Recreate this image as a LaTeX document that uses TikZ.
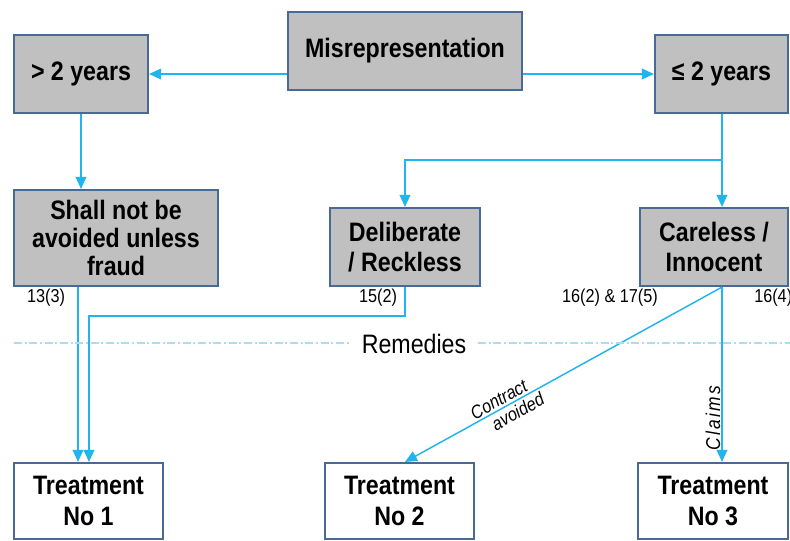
\documentclass[tikz,border=0pt]{standalone}
\usepackage{fontspec}
\setmainfont{Liberation Sans}[FakeStretch=0.87]
\usetikzlibrary{arrows.meta}
\definecolor{boxfill}{HTML}{C0C0C0}
\definecolor{boxline}{HTML}{4A6A96}
\definecolor{flow}{HTML}{22B4EE}
\definecolor{sepline}{HTML}{A8DDF3}
\tikzset{
  box/.style={draw=boxline, line width=1.6pt, fill=boxfill, align=center,
    font=\fontsize{20}{23}\selectfont\bfseries, inner sep=0pt},
  tbox/.style={box, fill=white},
  flowline/.style={draw=flow, line width=1.1pt, -{Triangle[length=9pt,width=8pt]}},
  flowplain/.style={draw=flow, line width=1.1pt},
  small/.style={font=\fontsize{14}{16}\selectfont, inner sep=0pt},
  edgelabel/.style={font=\fontsize{14}{16}\selectfont\itshape, inner sep=0pt, align=center},
  sep/.style={sepline, line width=0.9pt, dash pattern=on 6pt off 2pt on 1.5pt off 2pt},
}
\begin{document}
\begin{tikzpicture}[x=0.75pt,y=-0.75pt]
\clip (0,0) rectangle (790,540);
\fill[white] (0,0) rectangle (790,540);
% top row
\node[box, minimum width={234*0.75pt}, minimum height={78*0.75pt}] (mis) at (405,51) {Misrepresentation};
\node[box, minimum width={134*0.75pt}, minimum height={78*0.75pt}] (gt) at (81,74) {> 2 years};
\node[box, minimum width={133*0.75pt}, minimum height={78*0.75pt}] (le) at (721.5,74) {≤ 2 years};
% middle row
\node[box, minimum width={204*0.75pt}, minimum height={96*0.75pt}, font=\fontsize{20}{21}\selectfont\bfseries] (shall) at (116,238) {Shall not be\\avoided unless\\fraud};
\node[box, minimum width={150*0.75pt}, minimum height={78*0.75pt}] (del) at (405,247) {Deliberate\\/ Reckless};
\node[box, minimum width={148*0.75pt}, minimum height={78*0.75pt}] (care) at (714,247) {Careless /\\Innocent};
% bottom row
\node[tbox, minimum width={149*0.75pt}, minimum height={76*0.75pt}] (t1) at (88.5,501) {Treatment\\No 1};
\node[tbox, minimum width={149*0.75pt}, minimum height={76*0.75pt}] (t2) at (399.5,501) {Treatment\\No 2};
\node[tbox, minimum width={150*0.75pt}, minimum height={76*0.75pt}] (t3) at (713,501) {Treatment\\No 3};
% helper coordinates
\coordinate (branch) at (722,160);
\coordinate (delturn) at (405,160);
\coordinate (d1) at (405,316);
\coordinate (d2) at (89,316);
% connectors
\draw[flowline] (mis.west |- gt.east) -- (gt.east);
\draw[flowline] (mis.east |- le.west) -- (le.west);
\draw[flowline] (gt.south -| 81,0) -- (shall.north -| 81,0);
\draw[flowplain] (le.south -| branch) -- (branch);
\draw[flowline] (branch) -- (care.north -| branch);
\draw[flowline] (branch) -- (delturn) -- (del.north);
\draw[flowline] (shall.south -| 78,0) -- (t1.north -| 78,0);
\draw[flowline] (del.south) -- (d1) -- (d2) -- (t1.north -| d2);
\draw[flowline] (care.south -| branch) --
  node[edgelabel, sloped, pos=0.69, above=1.5pt] (ca1) {Contract}
  node[edgelabel, sloped, pos=0.66, below=2pt] (ca2) {avoided}
  (t2.north -| 405,0);
\draw[flowline] (care.south -| branch) -- (t3.north -| branch);
% labels
\node[small] (l1) at (46,298) {13(3)};
\node[small] (l2) at (378,298) {15(2)};
\node[small] (l3) at (610,298) {16(2) \& 17(5)};
\node[small, anchor=west] (l4) at (754,298) {16(4)};
\node[edgelabel, rotate=90, font=\fontsize{15}{16}\selectfont\itshape\addfontfeature{LetterSpace=12}] (claims) at (713,418) {Claims};
% remedies separator
\node[font=\fontsize{20}{22}\selectfont, inner sep=0pt] (rem) at (414,344) {Remedies};
\draw[sep] (14,343) -- (350,343);
\draw[sep] (478,343) -- (790,343);
\end{tikzpicture}
\end{document}
